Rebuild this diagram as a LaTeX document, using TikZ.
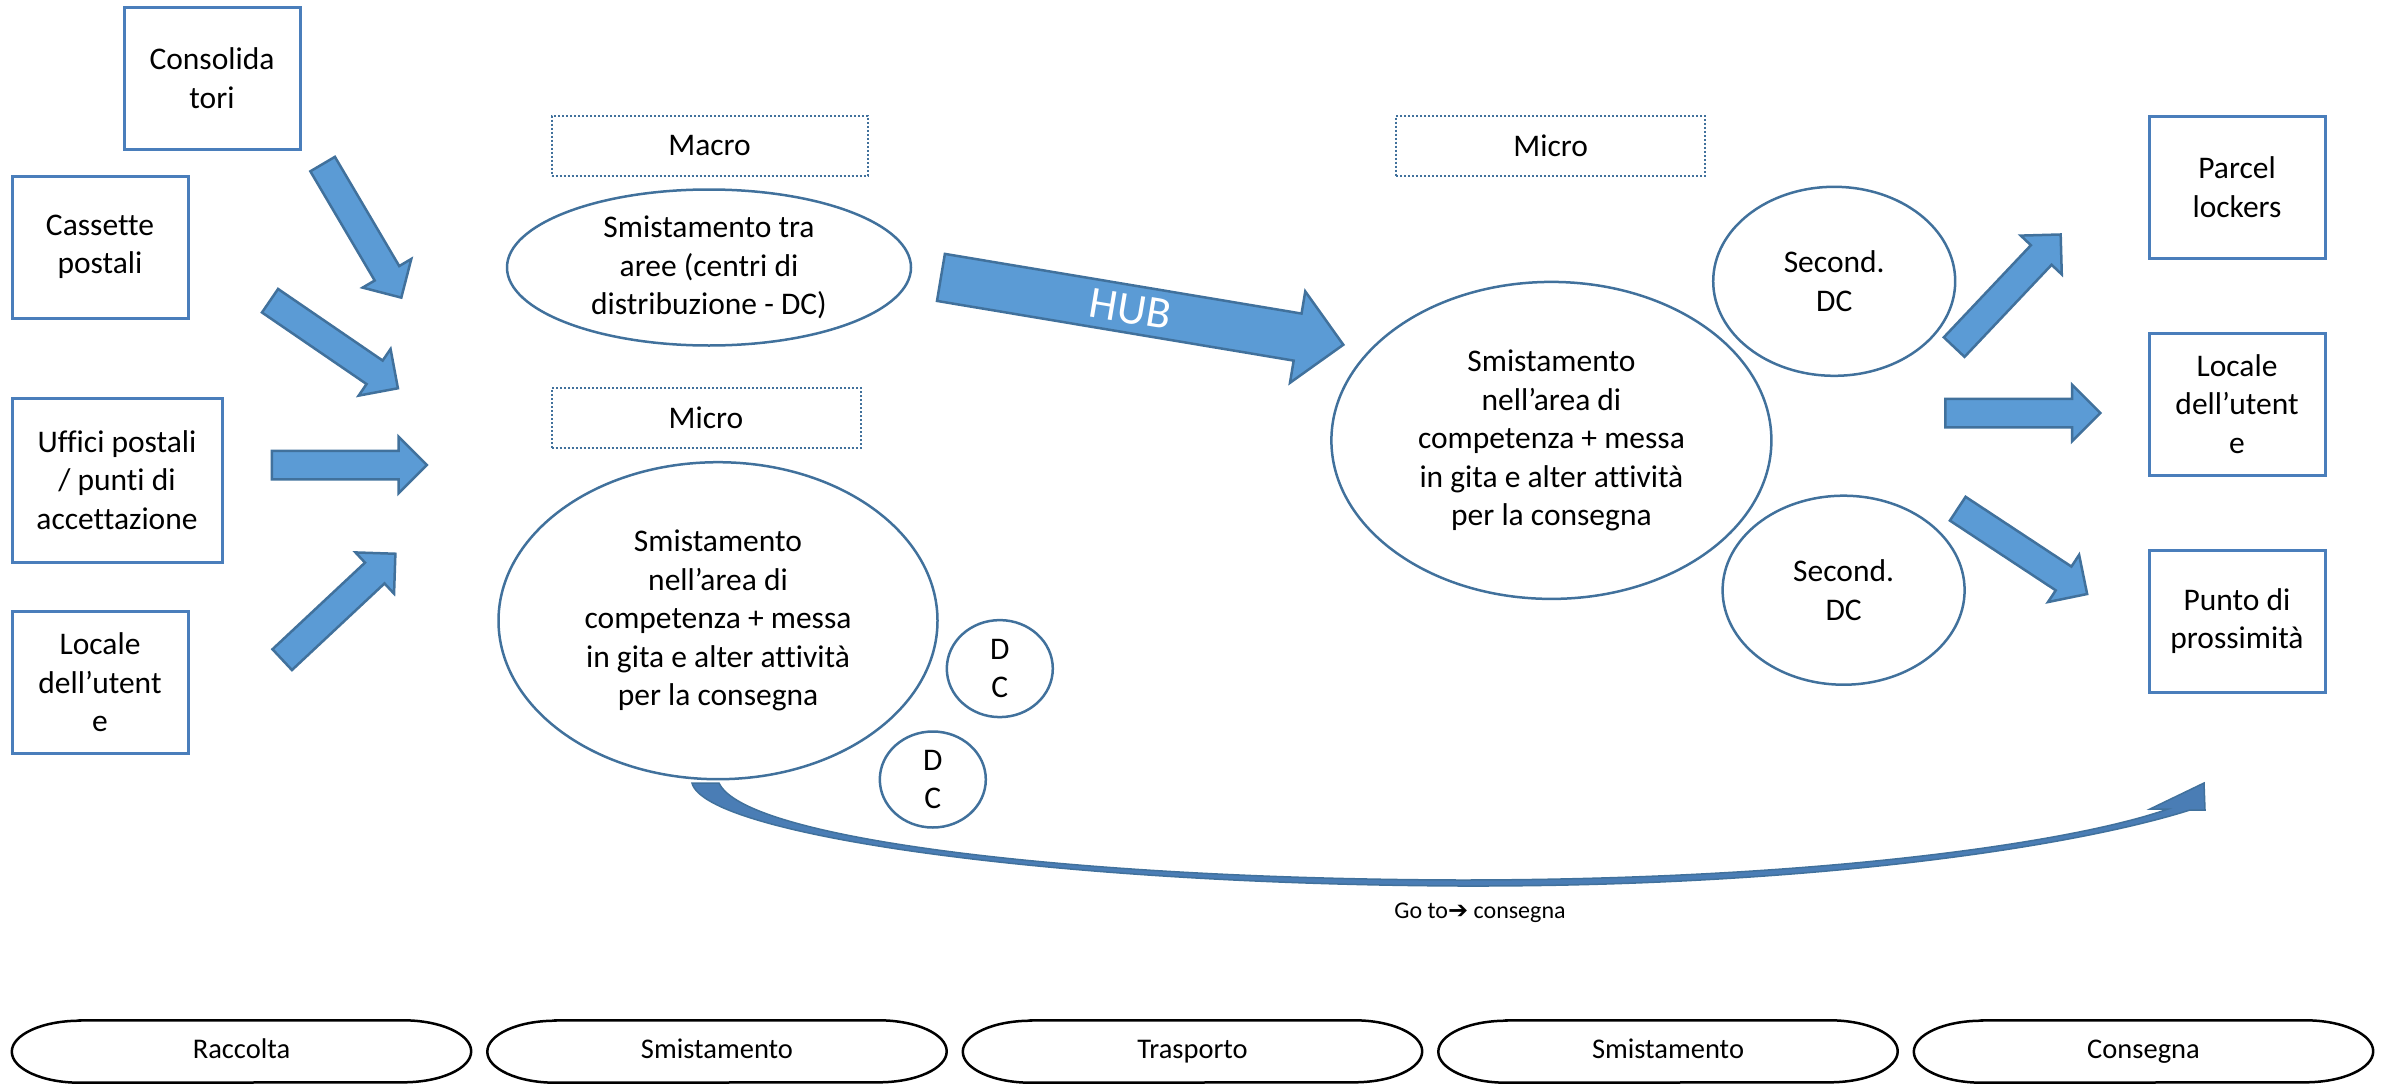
\documentclass[tikz,border=0pt]{standalone}
\usepackage{fontspec}
\setmainfont[Ligatures=NoCommon]{Carlito}
\newfontfamily\symbolfont{DejaVu Sans}
\usetikzlibrary{shapes.geometric,shapes.arrows}
\definecolor{arrowfill}{HTML}{5B9BD5}
\definecolor{arrowline}{HTML}{41719C}
\definecolor{boxline}{HTML}{4A7EBB}
\definecolor{curvefill}{HTML}{4A7DB5}

\begin{document}
\begin{tikzpicture}[x=1pt, y=-1pt,
    every node/.style = {font=\fontsize{31.5}{38.5}\selectfont, align=center, inner sep=0pt},
    source/.style = {shape=rectangle, draw=boxline, line width=3pt,
      minimum width=176pt, minimum height=142pt},
    area/.style = {shape=ellipse, draw=arrowline, line width=2.5pt},
    level/.style = {shape=rectangle, draw=arrowline, line width=2pt, dotted,
      minimum width=309pt, minimum height=60pt},
    flow/.style = {shape=single arrow, anchor=tail, fill=arrowfill, draw=arrowline, line width=2.5pt,
      inner xsep=0pt, inner ysep=13pt, single arrow head extend=14pt, single arrow tip angle=90,
      minimum width=54pt, minimum height=155pt},
    phase/.style = {font=\fontsize{28.5}{34}\selectfont, text height=19pt, text depth=6pt,
      minimum width=459pt, minimum height=62pt},
    phaseline/.style = {draw=black, line width=2.5pt}]
  \useasboundingbox (0,0) rectangle (2395,1084);

  % punti di raccolta
  \node[source] (consolidatori) at (212,78) {Consolida\\tori};
  \node[source] (cassette) at (100,247) {Cassette\\postali};
  \node[source, minimum width=210pt, minimum height=164pt] (uffici) at (117,480)
    {Uffici postali\\/ punti di\\accettazione};
  \node[source] (localeA) at (100,682.5) {Locale\\dell’utent\\e};

  \node[flow, rotate=-59.5] (flowA) at (322,163) {};
  \node[flow, rotate=-34.4] (flowB) at (269,300) {};
  \node[flow] (flowC) at (270.7,465) {};
  \node[flow, rotate=43.1] (flowD) at (281.3,660.5) {};

  % smistamento
  \node[level, minimum width=316pt] (macro) at (709.6,145.5) {Macro};
  \node[area, minimum width=404pt, minimum height=156pt] (interaree) at (709,267.5)
    {Smistamento tra\\aree (centri di\\distribuzione - DC)};
  \node[level] (microA) at (706,418) {Micro};
  \node[area, minimum width=439pt, minimum height=317pt] (areaA) at (718,620.7)
    {Smistamento\\nell’area di\\competenza + messa\\in gita e alter attività\\per la consegna};
  \node[area, minimum width=106pt, minimum height=97pt] (dcA) at (999.8,668.6) {D\\C};
  \node[area, minimum width=106pt, minimum height=96pt] (dcB) at (932.8,779.5) {D\\C};

  % trasporto
  \node[flow, rotate=-9.5, minimum width=90pt, minimum height=408pt,
    inner ysep=8pt, single arrow head extend=22.5pt,
    text=white, font=\fontsize{45}{54}\selectfont]
    (hub) at (939.7,277.2) {HUB};

  % smistamento locale
  \node[level] (microB) at (1550.7,145.5) {Micro};
  \node[area, minimum width=440pt, minimum height=317pt] (areaB) at (1551.4,440.4)
    {Smistamento\\nell’area di\\competenza + messa\\in gita e alter attività\\per la consegna};
  \node[area, minimum width=242pt, minimum height=189pt] (secA) at (1834.2,281.3) {Second.\\DC};
  \node[area, minimum width=242pt, minimum height=189pt] (secB) at (1843.6,590.2) {Second.\\DC};

  \node[flow, rotate=46.6] (flowE) at (1953.3,348) {};
  \node[flow] (flowF) at (1944,413) {};
  \node[flow, rotate=-33.4] (flowG) at (1956.7,508) {};

  % consegna
  \node[source] (parcel) at (2237,187) {Parcel\\lockers};
  \node[source] (localeB) at (2237,404) {Locale\\dell’utent\\e};
  \node[source] (punto) at (2237,621) {Punto di\\prossimità};

  % go to consegna
  \filldraw[fill=curvefill, draw=arrowline, line width=1.5pt]
    (692,783) .. controls (705,835) and (1050,884) .. (1460,886)
    .. controls (1820,887) and (2080,845) .. (2190,810)
    -- (2205,810) -- (2204,783) -- (2150,809) -- (2168,809)
    .. controls (2075,842) and (1820,880) .. (1460,880)
    .. controls (1080,879) and (745,840) .. (719,783) -- cycle;
  \node[font=\fontsize{24}{29}\selectfont] (goto) at (1480,913) {Go to{\symbolfont ➔} consegna};

  % fasi
  \foreach \name [count=\i from 0] in {Raccolta, Smistamento, Trasporto, Smistamento, Consegna} {
    \node[phase] (phase\i) at (241.5+475.5*\i, 1051.5) {\name};
    \draw[phaseline] ([xshift=68pt]phase\i.north west) -- ([xshift=-68pt]phase\i.north east)
      arc[start angle=90, end angle=-90, x radius=68pt, y radius=31pt]
      -- ([xshift=68pt]phase\i.south west)
      arc[start angle=270, end angle=90, x radius=68pt, y radius=31pt] -- cycle;
  }
\end{tikzpicture}
\end{document}
